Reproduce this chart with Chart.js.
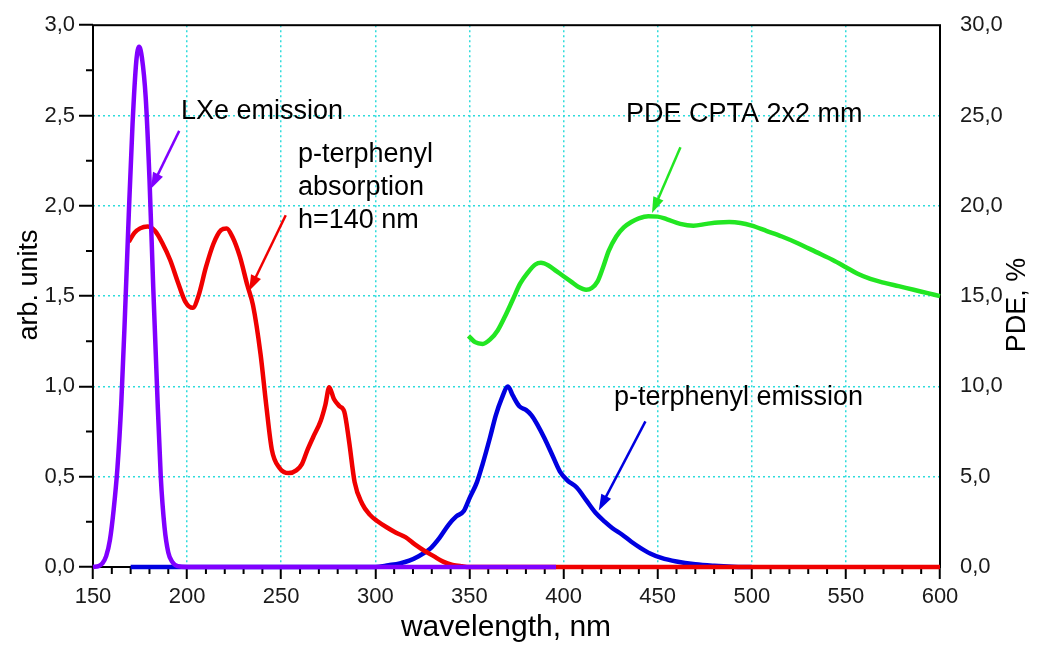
<!DOCTYPE html>
<html>
<head>
<meta charset="utf-8">
<script src="https://cdn.jsdelivr.net/npm/chart.js@4/dist/chart.umd.min.js"></script>
<style>
body { margin: 0; background: #fff; }
#wrap { width: 1041px; height: 646px; }
</style>
</head>
<body>
<div id="wrap"><canvas id="chart"></canvas></div>
<script>
// LXe emission (arb. units)
const lxeX = [150, 153, 155, 157, 159, 161, 163, 165, 167, 169, 171, 173, 174.5, 176, 178, 180, 182, 184, 186, 188, 190, 192, 195, 200, 396];
const lxeY = [0, 0.005, 0.02, 0.06, 0.15, 0.32, 0.55, 0.9, 1.4, 1.95, 2.45, 2.8, 2.88, 2.82, 2.6, 2.15, 1.55, 1.0, 0.5, 0.22, 0.08, 0.03, 0.005, 0, 0];

// p-terphenyl absorption, h=140 nm
const absX = [169, 172, 175, 179, 183, 187, 191, 195, 199, 203, 206, 210, 214, 218, 221, 224, 228, 232, 235, 239, 242, 245, 249, 254, 258, 261, 264, 267, 271, 273.5, 275.5, 278, 281, 283.5, 286, 289, 293, 297, 301, 306, 311, 316, 321, 326, 331, 336, 341, 346, 350, 600];
const absY = [1.80, 1.85, 1.875, 1.885, 1.86, 1.79, 1.70, 1.58, 1.47, 1.435, 1.50, 1.66, 1.79, 1.865, 1.875, 1.83, 1.72, 1.56, 1.45, 1.18, 0.90, 0.65, 0.55, 0.52, 0.535, 0.57, 0.65, 0.72, 0.81, 0.9, 0.995, 0.93, 0.89, 0.86, 0.70, 0.47, 0.35, 0.29, 0.255, 0.22, 0.19, 0.165, 0.125, 0.09, 0.06, 0.03, 0.012, 0.004, 0, 0];

// p-terphenyl emission
const emX = [170, 300, 307, 313, 318, 323, 329, 334, 339, 343, 347, 350, 354, 357, 361, 364, 367, 370.5, 373, 376.5, 380, 383, 386, 390, 394, 398, 402, 407, 412, 417, 422, 426, 431, 436, 441, 446, 452, 460, 470, 480, 490, 500];
const emY = [0, 0, 0.01, 0.02, 0.035, 0.06, 0.1, 0.16, 0.235, 0.28, 0.31, 0.38, 0.47, 0.57, 0.72, 0.84, 0.93, 1.0, 0.95, 0.89, 0.87, 0.84, 0.79, 0.71, 0.62, 0.53, 0.48, 0.44, 0.37, 0.30, 0.25, 0.215, 0.18, 0.14, 0.105, 0.075, 0.05, 0.03, 0.015, 0.007, 0.002, 0];

// PDE CPTA 2x2 mm (%, right axis)
const pdeX = [349.5, 353, 357, 361, 365, 369, 373, 377, 381, 385, 388, 392, 396, 400, 404, 408, 412, 415, 418, 421, 424, 428, 432, 436, 440, 445, 450, 455, 462, 469, 476, 482, 488, 494, 500, 508, 516, 525, 534, 543, 550, 556, 563, 570, 578, 586, 594, 600];
const pdeY = [12.8, 12.45, 12.35, 12.6, 13.1, 13.9, 14.8, 15.7, 16.3, 16.75, 16.85, 16.7, 16.4, 16.1, 15.8, 15.5, 15.35, 15.45, 15.8, 16.6, 17.5, 18.3, 18.8, 19.1, 19.3, 19.42, 19.4, 19.25, 19.0, 18.9, 19.0, 19.08, 19.1, 19.05, 18.9, 18.6, 18.3, 17.9, 17.45, 17.0, 16.6, 16.25, 15.95, 15.75, 15.55, 15.35, 15.15, 15.0];

const FONT = '"Liberation Sans", Arial, sans-serif';
const PURPLE = '#8000ff', RED = '#f00000', BLUE = '#0000e0', GREEN = '#22e622';
const xy = (xs, ys) => xs.map((x, i) => ({ x: x, y: ys[i] }));
const comma = v => v.toFixed(1).replace('.', ',');

// labels (pixel positions) and arrows (data coordinates)
const notes = [
    { text: 'LXe emission', x: 181, y: 112 },
    { text: 'p-terphenyl', x: 298, y: 155 },
    { text: 'absorption', x: 298, y: 188 },
    { text: 'h=140 nm', x: 298, y: 221 },
    { text: 'PDE CPTA 2x2 mm', x: 626, y: 115 },
    { text: 'p-terphenyl emission', x: 614, y: 398 }
];
const arrows = [
    { from: [195.8, 2.415], to: [180.8, 2.095], axis: 'y', color: PURPLE },
    { from: [252.4, 1.948], to: [232.9, 1.528], axis: 'y', color: RED },
    { from: [462.1, 23.24], to: [447.0, 19.6], axis: 'y2', color: GREEN },
    { from: [443.5, 0.806], to: [418.7, 0.313], axis: 'y', color: BLUE }
];

function arrow(ctx, x1, y1, x2, y2, color) {
    const a = Math.atan2(y2 - y1, x2 - x1), L = 16, W = 5.5;
    ctx.strokeStyle = color; ctx.fillStyle = color; ctx.lineWidth = 2.5;
    ctx.beginPath(); ctx.moveTo(x1, y1); ctx.lineTo(x2 - L * 0.7 * Math.cos(a), y2 - L * 0.7 * Math.sin(a)); ctx.stroke();
    ctx.beginPath(); ctx.moveTo(x2, y2);
    ctx.lineTo(x2 - L * Math.cos(a) + W * Math.sin(a), y2 - L * Math.sin(a) - W * Math.cos(a));
    ctx.lineTo(x2 - L * Math.cos(a) - W * Math.sin(a), y2 - L * Math.sin(a) + W * Math.cos(a));
    ctx.closePath(); ctx.fill();
}

const extras = {
    id: 'extras',
    // frame and minor ticks under the curves
    beforeDatasetsDraw(chart) {
        const { ctx, chartArea: a, scales } = chart, x = scales.x, y = scales.y;
        ctx.save();
        ctx.strokeStyle = '#000'; ctx.lineWidth = 2;
        ctx.strokeRect(a.left, a.top, a.right - a.left, a.bottom - a.top);
        ctx.beginPath();
        for (let v = 160; v < 600; v += 10) {
            if (v % 50 === 0) continue;
            const p = x.getPixelForValue(v);
            ctx.moveTo(p, a.bottom); ctx.lineTo(p, a.bottom + 7);
        }
        for (let v = 0.25; v < 3; v += 0.5) {
            const p = y.getPixelForValue(v);
            ctx.moveTo(a.left, p); ctx.lineTo(a.left - 7, p);
        }
        ctx.stroke();
        ctx.restore();
    },
    afterDatasetsDraw(chart) {
        const { ctx, scales } = chart, x = scales.x;
        ctx.save();
        arrows.forEach(r => {
            const s = scales[r.axis];
            arrow(ctx, x.getPixelForValue(r.from[0]), s.getPixelForValue(r.from[1]), x.getPixelForValue(r.to[0]), s.getPixelForValue(r.to[1]), r.color);
        });
        ctx.fillStyle = '#000'; ctx.font = '27px ' + FONT;
        ctx.textAlign = 'left'; ctx.textBaseline = 'middle';
        notes.forEach(n => ctx.fillText(n.text, n.x, n.y));
        // axis titles
        ctx.textAlign = 'center';
        ctx.font = '30px ' + FONT;
        ctx.fillText('wavelength, nm', 506, 628);
        ctx.font = '27px ' + FONT;
        ctx.save(); ctx.translate(30, 285); ctx.rotate(-Math.PI / 2); ctx.fillText('arb. units', 0, 0); ctx.restore();
        ctx.save(); ctx.translate(1018, 305); ctx.rotate(-Math.PI / 2); ctx.fillText('PDE, %', 0, 0); ctx.restore();
        ctx.restore();
    }
};

const line = (label, xs, ys, color, axis) => ({
    label: label, data: xy(xs, ys), borderColor: color, borderWidth: 4.5, yAxisID: axis,
    pointRadius: 0, fill: false, cubicInterpolationMode: 'monotone', clip: 4
});

const gridCol = (lo, hi) => c => (c.tick && c.tick.value > lo + 1e-9 && c.tick.value < hi - 1e-9) ? '#2fdcdc' : 'rgba(0,0,0,0)';

new Chart(document.getElementById('chart'), {
    type: 'line',
    data: {
        datasets: [
            line('LXe emission', lxeX, lxeY, PURPLE, 'y'),
            line('p-terphenyl absorption', absX, absY, RED, 'y'),
            line('p-terphenyl emission', emX, emY, BLUE, 'y'),
            line('PDE CPTA 2x2 mm', pdeX, pdeY, GREEN, 'y2')
        ]
    },
    options: {
        responsive: true, maintainAspectRatio: false, animation: false,
        layout: { padding: { top: 19, left: 0, right: 0, bottom: 0 } },
        plugins: { legend: { display: false }, tooltip: { enabled: false } },
        scales: {
            x: {
                type: 'linear', min: 150, max: 600,
                afterFit: s => { s.height = 79; },
                ticks: { stepSize: 50, autoSkip: false, padding: 5, color: '#1a1a1a', font: { family: FONT, size: 22 }, callback: v => v },
                grid: { color: gridCol(150, 600), lineWidth: 1.5, tickColor: '#000', tickWidth: 2, tickLength: 12 },
                border: { display: false, dash: [2, 3] }
            },
            y: {
                position: 'left', min: 0, max: 3,
                afterFit: s => { s.width = 93; },
                ticks: { stepSize: 0.5, padding: 4, color: '#1a1a1a', font: { family: FONT, size: 22 }, callback: comma },
                grid: { color: gridCol(0, 3), lineWidth: 1.5, tickColor: '#000', tickWidth: 2, tickLength: 14 },
                border: { display: false, dash: [2, 3] }
            },
            y2: {
                position: 'right', min: 0, max: 30,
                afterFit: s => { s.width = 101; },
                ticks: { stepSize: 5, padding: 12, color: '#1a1a1a', font: { family: FONT, size: 22 }, callback: comma },
                grid: { display: false },
                border: { display: false }
            }
        }
    },
    plugins: [extras]
});
</script>
</body>
</html>
